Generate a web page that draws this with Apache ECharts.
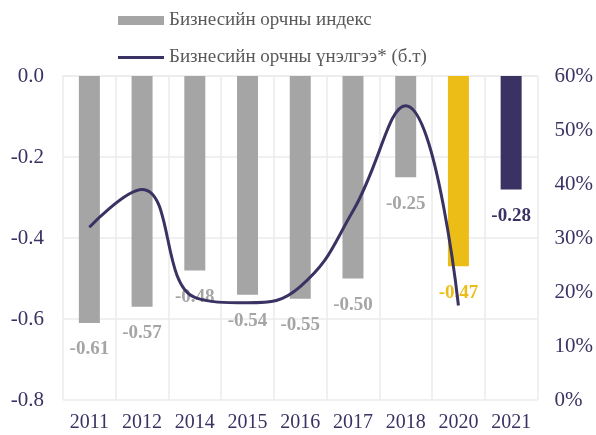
<!DOCTYPE html>
<html>
<head>
<meta charset="utf-8">
<script src="https://cdn.jsdelivr.net/npm/echarts@6/dist/echarts.min.js"></script>
<style>
  html, body { margin: 0; padding: 0; background: #fff; }
  #chart { width: 596px; height: 435px; }
</style>
</head>
<body>
<div id="chart"></div>
<script>
const years = ['2011', '2012', '2014', '2015', '2016', '2017', '2018', '2020', '2021'];
const indexValues = [-0.61, -0.57, -0.48, -0.54, -0.55, -0.50, -0.25, -0.47, -0.28];
// үнэлгээ, % (2021 оны утга байхгүй)
const ratingValues = [32, 39, 19, 18, 21, 35, 54.5, 17.5, '-'];

const barName = 'Бизнесийн орчны индекс';
const lineName = 'Бизнесийн орчны үнэлгээ* (б.т)';

const gray = '#A5A5A5';
const navy = '#3A3262';
const barColors = [gray, gray, gray, gray, gray, gray, gray, '#EDBD17', navy];
const font = '"Liberation Serif", "Times New Roman", serif';

const chart = echarts.init(document.getElementById('chart'));

const options = {
  animation: false,
  textStyle: { fontFamily: font },
  grid: { left: 63, right: 57, top: 76, bottom: 35 },
  legend: [
    {
      data: [barName],
      left: 118,
      top: 11,
      padding: 0,
      icon: 'rect',
      itemWidth: 46,
      itemHeight: 9,
      itemGap: 0,
      textStyle: { fontFamily: font, fontSize: 19, color: '#595959' }
    },
    {
      data: [lineName],
      left: 118,
      top: 48,
      padding: 0,
      icon: 'rect',
      itemWidth: 46,
      itemHeight: 3,
      textStyle: { fontFamily: font, fontSize: 19, color: '#595959' }
    }
  ],
  xAxis: {
    type: 'category',
    data: years,
    axisLine: { show: true, lineStyle: { color: '#EBEBEB', width: 1.5 } },
    axisTick: { show: false },
    splitLine: { show: true, lineStyle: { color: '#EBEBEB', width: 1.5 } },
    axisLabel: { color: navy, fontSize: 20, fontFamily: font, margin: 13 }
  },
  yAxis: [
    {
      type: 'value',
      min: -0.8,
      max: 0,
      interval: 0.2,
      axisLine: { show: false },
      axisTick: { show: false },
      splitLine: { lineStyle: { color: '#EBEBEB', width: 1.5 } },
      axisLabel: {
        color: navy, fontSize: 21, fontFamily: font, margin: 19,
        formatter: v => v.toFixed(1)
      }
    },
    {
      type: 'value',
      min: 0,
      max: 60,
      interval: 10,
      axisLine: { show: false },
      axisTick: { show: false },
      splitLine: { show: false },
      axisLabel: { color: navy, fontSize: 21, fontFamily: font, margin: 17, formatter: '{value}%' }
    }
  ],
  series: [
    {
      name: barName,
      type: 'bar',
      barWidth: 21,
      itemStyle: { color: gray },
      label: {
        show: true,
        position: 'bottom',
        distance: 17,
        fontFamily: font,
        fontSize: 19,
        fontWeight: 'bold',
        formatter: p => p.value.toFixed(2)
      },
      data: indexValues.map((v, i) => ({
        value: v,
        itemStyle: { color: barColors[i] },
        label: { color: barColors[i] }
      }))
    },
    {
      name: lineName,
      type: 'line',
      yAxisIndex: 1,
      smooth: 0.45,
      showSymbol: false,
      symbol: 'none',
      itemStyle: { color: navy },
      lineStyle: { color: navy, width: 3 },
      data: ratingValues,
      z: 3
    }
  ]
};

chart.setOption(options);
window.addEventListener('resize', () => {
  chart.resize();
});
</script>
</body>
</html>
